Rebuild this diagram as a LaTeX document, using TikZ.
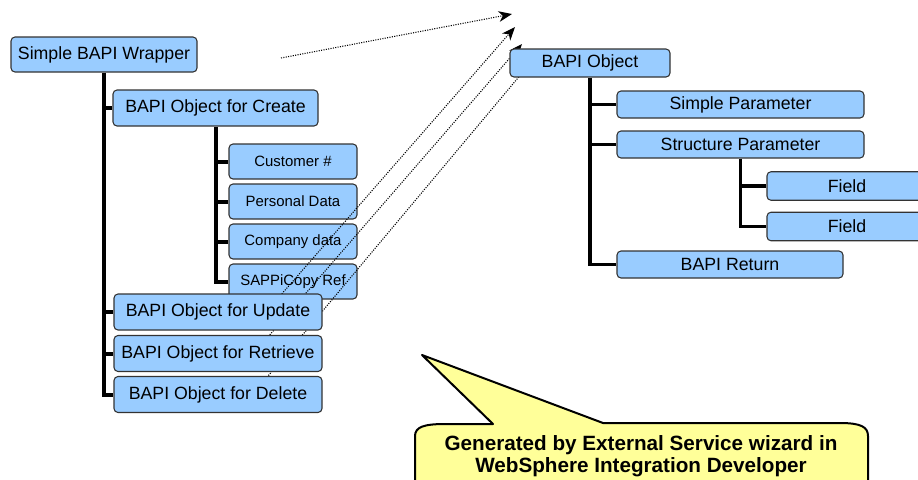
\documentclass[tikz,border=0pt]{standalone}
\usepackage{fontspec}
\setmainfont{Liberation Sans}
\usetikzlibrary{arrows.meta}
\definecolor{boxblue}{RGB}{153,204,255}
\definecolor{boxline}{RGB}{51,51,51}
\definecolor{noteyellow}{RGB}{255,255,153}
\begin{document}
\begin{tikzpicture}[x=0.75pt,y=0.75pt,yscale=-1,
	bapibox/.style={draw=boxline, fill=boxblue, rounded corners=3pt, line width=0.8pt, inner sep=0pt, font=\fontsize{13.3}{15}\selectfont},
	smallbox/.style={bapibox, font=\fontsize{11.2}{13}\selectfont, minimum width=96pt, minimum height=26.25pt},
	opbox/.style={bapibox, minimum width=156pt, minimum height=27pt},
	parbox/.style={bapibox, minimum width=185.25pt, minimum height=20.25pt},
	fieldbox/.style={bapibox, minimum width=120pt, minimum height=21.4pt},
	trunk/.style={line width=3pt},
	rtrunk/.style={line width=2.5pt},
	link/.style={densely dotted, line width=0.8pt, draw=black, -{Stealth[length=10pt,width=8pt,inset=3pt]}},
	note/.style={draw=black, fill=noteyellow, line width=1.5pt, line join=round},
	notetext/.style={align=center, inner sep=0pt, font=\bfseries\fontsize{15.5}{16.5}\selectfont}]
	\clip (0,0) rectangle (918,479);
	
	% Left tree, upper part
	\node[bapibox, minimum width=139.5pt, minimum height=26.25pt] (wrap) at (104,54.5) {Simple BAPI Wrapper};
	\node[bapibox, minimum width=153.75pt, minimum height=27pt] (create) at (215.5,108) {BAPI Object for Create};
	\node[smallbox] (cust) at (293,161.5) {Customer \#};
	\node[smallbox] (pers) at (293,201.5) {Personal Data};
	\node[smallbox] (comp) at (293,241.5) {Company data};
	\node[smallbox] (sappi) at (293,281.5) {SAPPiCopy Ref};
	
	% Dotted links
	\coordinate (s1) at (281,58);  \coordinate (t1) at (512,14);
	\coordinate (s2) at (266,312); \coordinate (t2) at (515,27);
	\coordinate (s3) at (254,353); \coordinate (t3) at (522,44);
	\coordinate (s4) at (253,394); \coordinate (t4) at (533,60);
	\foreach \i in {1,...,4}
		\draw[link] (s\i) -- (t\i);
	
	% Left tree, lower part
	\node[opbox] (update) at (218,312) {BAPI Object for Update};
	\node[opbox] (retrieve) at (218,353.5) {BAPI Object for Retrieve};
	\node[opbox] (delete) at (218,394.5) {BAPI Object for Delete};
	
	\draw[trunk] (wrap.south) |- (delete.west);
	\foreach \n in {create,update,retrieve}
		\draw[trunk] (wrap.south |- \n.west) -- (\n.west);
	\draw[trunk] (create.south) |- (sappi.west);
	\foreach \n in {cust,pers,comp}
		\draw[trunk] (create.south |- \n.west) -- (\n.west);
	
	% Right tree
	\node[bapibox, minimum width=120pt, minimum height=21pt] (bobj) at (590,63) {BAPI Object};
	\node[parbox] (simple) at (740.5,104.5) {Simple Parameter};
	\node[parbox] (struct) at (740.5,144.5) {Structure Parameter};
	\node[fieldbox] (field1) at (847,186) {Field};
	\node[fieldbox] (field2) at (847,226.5) {Field};
	\node[bapibox, minimum width=169.5pt, minimum height=20.25pt] (ret) at (730,264.5) {BAPI Return};
	
	\draw[rtrunk] (bobj.south) |- (ret.west);
	\foreach \n in {simple,struct}
		\draw[rtrunk] (bobj.south |- \n.west) -- (\n.west);
	\draw[rtrunk] (struct.south) |- (field2.west);
	\draw[rtrunk] (struct.south |- field1.west) -- (field1.west);
	
	% Callout
	\draw[note] (415,495) -- (415,436) .. controls (415,427) and (424,424) .. (445,424) -- (493,424) -- (422,355) -- (603,423) -- (840,423) .. controls (861,423) and (868,427) .. (868,436) -- (868,495);
	\node[notetext] (note) at (641,456) {Generated by External Service wizard in\\WebSphere Integration Developer};
\end{tikzpicture}
\end{document}
